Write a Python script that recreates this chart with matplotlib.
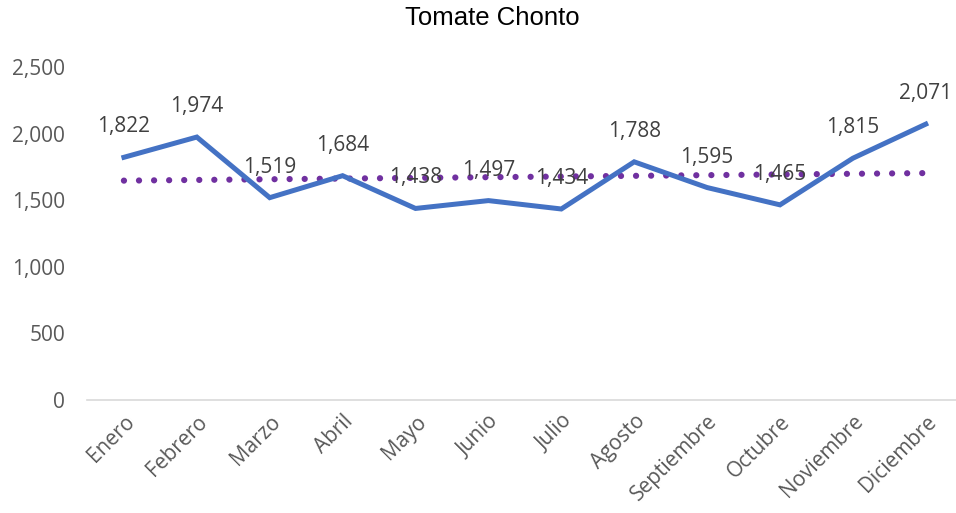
import numpy as np
import matplotlib.pyplot as plt

meses = ["Enero", "Febrero", "Marzo", "Abril", "Mayo", "Junio", "Julio",
         "Agosto", "Septiembre", "Octubre", "Noviembre", "Diciembre"]
valores = [1822, 1974, 1519, 1684, 1438, 1497, 1434, 1788, 1595, 1465, 1815, 2071]
yticks = [0, 500, 1000, 1500, 2000, 2500]

x = np.arange(len(meses))
# linear trendline like in excel
m, b = np.polyfit(x, valores, 1)
trend = m * x + b

fig = plt.figure(figsize=(9.56, 5.13), dpi=100)
ax = fig.add_axes([0.0915, 0.2203, 0.915, 0.6491])

ax.plot(x, valores, color="#4472C4", linewidth=3.6, solid_joinstyle="miter", zorder=3)
ax.plot(x, trend, color="#7030A0", linewidth=4.5, linestyle=(0, (0.01, 2.4)),
        dash_capstyle="round", zorder=2)

fnt = "Open Sans"
for xi, v in zip(x, valores):
    ax.annotate(f"{v:,}", (xi, v), xytext=(0, 18), textcoords="offset points",
                ha="center", va="baseline", fontsize=15, color="#404040",
                family=fnt, zorder=4)

ax.set_xlim(-0.5, len(meses) - 0.5)
ax.set_ylim(0, 2500)
ax.set_yticks(yticks)
ax.set_yticklabels([f"{t:,}" for t in yticks], family=fnt, fontsize=15, color="#595959")
ax.set_xticks(x)
ax.set_xticklabels(meses, rotation=45, ha="right", va="top", rotation_mode="anchor",
                   family=fnt, fontsize=15, color="#595959")
ax.tick_params(axis="both", length=0)
ax.tick_params(axis="y", pad=16)
ax.tick_params(axis="x", pad=8)

for s in ["top", "right", "left"]:
    ax.spines[s].set_visible(False)
ax.spines["bottom"].set_color("#D9D9D9")
ax.spines["bottom"].set_linewidth(1.2)

fig.text(0.515, 0.965, "Tomate Chonto", ha="center", va="center",
         fontsize=18.5, family="Liberation Sans", color="black")

fig.savefig("out.png", dpi=100)
